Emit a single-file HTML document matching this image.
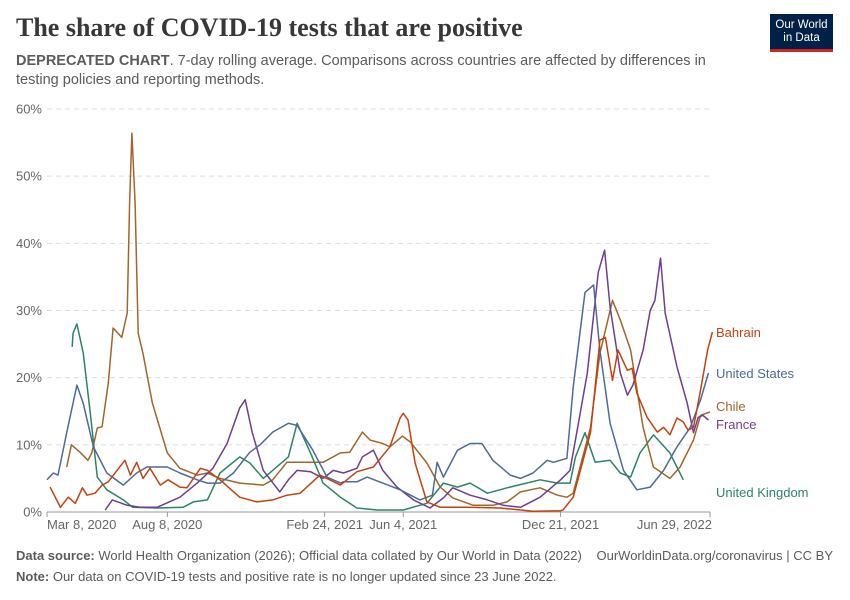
<!DOCTYPE html>
<html><head><meta charset="utf-8"><style>
body{margin:0;background:#fff;font-family:"Liberation Sans",sans-serif;}
#wrap{position:relative;width:850px;height:600px;overflow:hidden;}
.t{position:absolute;white-space:nowrap;}
</style></head><body>
<div id="wrap">
<div class="t" style="left:16px;top:13px;font-family:'Liberation Serif',serif;font-size:26px;font-weight:bold;color:#373737;">The share of COVID-19 tests that are positive</div>
<div class="t" style="left:16px;top:52px;font-size:14.5px;color:#5b5b5b;line-height:19px;white-space:normal;width:720px;"><b>DEPRECATED CHART</b>. 7-day rolling average. Comparisons across countries are affected by differences in testing policies and reporting methods.</div>
<div style="position:absolute;left:770px;top:14px;width:63px;height:38px;background:#002147;border-bottom:3px solid #ce261e;box-sizing:border-box;color:#fff;font-size:11.5px;line-height:13px;text-align:center;padding-top:5px;">Our World<br>in Data</div>
<svg id="chart" width="850" height="600" style="position:absolute;left:0;top:0;"></svg>
<div class="t" style="left:16px;top:548px;font-size:13px;color:#5b5b5b;"><b>Data source:</b> World Health Organization (2026); Official data collated by Our World in Data (2022)</div>
<div class="t" style="right:17px;top:548px;font-size:13px;color:#5b5b5b;">OurWorldinData.org/coronavirus | CC BY</div>
<div class="t" style="left:16px;top:569px;font-size:13px;color:#5b5b5b;"><b>Note:</b> Our data on COVID-19 tests and positive rate is no longer updated since 23 June 2022.</div>
</div>
<script>
const yTicks=[0,10,20,30,40,50,60];
const xTickDays=[0,153,353,453,653,843];
const xTickLabels=["Mar 8, 2020","Aug 8, 2020","Feb 24, 2021","Jun 4, 2021","Dec 21, 2021","Jun 29, 2022"];
const seriesNames=["Bahrain","United States","Chile","France","United Kingdom"];
const bahrainDays=[4,17,27,36,45,51,61,70,78,89,99,106,114,122,131,144,154,169,178,195,204,220,245,267,287,305,322,347,373,394,415,436,449,453,459,468,483,500,534,576,618,653,656,669,691,703,710,719,726,738,744,750,763,776,784,792,801,809,815,822,831,840,846];
const bahrainVals=[3.7,0.7,2.2,1.3,3.6,2.5,2.8,4,4.5,6.2,7.7,5.5,7.4,5,6.5,4,4.8,3.7,3.6,6.5,6.2,4.8,2.2,1.5,1.8,2.5,2.8,5.5,4,6,6.7,9.7,14,14.7,13.7,7.3,1.5,0.7,0.7,0.6,0.1,0.2,0.3,2.2,11.8,25.6,26,19.6,24.1,21.1,21.4,17.7,14.1,11.9,12.6,11.5,14,13.4,12.2,12.6,18.2,24.1,26.8];
const usDays=[0,8,14,25,38,46,59,76,97,114,127,153,169,191,204,220,237,258,271,287,307,318,338,356,373,377,394,407,427,449,474,490,496,504,522,538,553,567,589,602,618,636,644,661,669,684,695,703,716,733,750,767,784,801,818,831,841];
const usVals=[4.8,5.8,5.5,11.8,18.9,16.2,9.7,5.8,4,5.8,6.7,6.7,5.8,4.8,4.3,4.3,5.8,8.9,10,11.9,13.2,12.9,9.2,5.2,4.3,4.5,4.5,5.2,4.3,3.3,1.8,2.5,7.4,5.2,9.2,10.2,10.2,7.7,5.5,5,5.8,7.7,7.4,8,18.6,32.7,33.8,24.1,13.2,6.2,3.3,3.7,6.2,9.7,12.6,16.7,20.7];
const chileDays=[25,31,42,52,57,64,70,78,84,95,102,105,108,112,116,122,134,153,169,191,204,220,245,275,287,305,331,351,373,385,401,411,427,436,452,462,483,500,516,542,567,585,602,627,649,661,669,691,703,719,729,742,758,771,792,805,822,831,843];
const chileVals=[6.7,10,8.9,7.7,8.8,12.5,12.7,19.2,27.4,26,29.6,46,56.4,46,26.6,23.6,16.2,8.8,6.5,5.5,5.8,5,4.3,4,4.8,7.4,7.4,7.4,8.8,8.9,11.9,10.7,10.2,9.7,11.3,10.4,7.3,3.7,2.1,1,1,1.5,3,3.6,2.5,2.2,2.8,12.6,23.6,31.5,28.6,24.1,12.6,6.7,5,6.7,10.7,14.4,14.9];
const franceDays=[74,83,102,118,140,169,191,211,229,245,252,261,275,296,307,318,335,351,364,377,394,401,415,427,445,466,487,504,516,538,560,580,602,627,653,665,678,687,701,709,716,729,738,745,758,767,773,780,786,801,814,822,828,834,841];
const franceVals=[0.3,1.8,1,0.7,0.7,2.2,4.3,6.5,10.2,15.5,16.7,11.8,6.2,3,4.8,6.2,6,5,6.2,5.8,6.5,8.2,9.2,6.2,3.7,1.8,0.6,2.1,3.6,2.5,1.8,1,0.7,2.2,4.8,6.2,14.7,20.7,35.7,39,30.5,20.7,17.4,18.9,24.1,30,31.5,37.8,29.6,21.6,16.2,11.8,14.1,14.4,13.7];
const ukDays=[32,33,38,46,55,64,76,97,109,140,173,186,204,220,245,258,275,307,318,335,351,373,394,420,453,483,504,522,538,560,585,627,649,665,672,684,697,716,729,742,754,771,792,809];
const ukVals=[24.6,26.6,28,23.7,14.7,5.2,3.3,1.8,0.7,0.6,0.7,1.5,1.8,5.8,8.2,7.3,5,8.2,13.2,8.8,4.3,2.2,0.6,0.3,0.3,1.3,4.3,3.7,4.3,2.8,3.6,4.8,4.3,4.3,8.2,11.8,7.4,7.7,5.8,5.2,8.8,11.5,8.8,4.8,3];
const colors=["#c4420e","#4c6a9c","#a2652a","#6d3e91","#2c8465"];
const labelY=[332,373,406,424,492];

const NS="http://www.w3.org/2000/svg";
const svg=document.getElementById('chart');
const X0=47,X1=710,Y0=512,Y1=109,DMAX=843,VMAX=60;
function xs(d){return X0+d*(X1-X0)/DMAX;}
function ys(v){return Y0-v*(Y0-Y1)/VMAX;}
function mk(tag,attrs){const e=document.createElementNS(NS,tag);for(const k in attrs)e.setAttribute(k,attrs[k]);svg.appendChild(e);return e;}

yTicks.forEach(t=>{
  const g=mk('line',{x1:X0,x2:X1,y1:ys(t),y2:ys(t),stroke:'#dddddd','stroke-dasharray':t===0?'':'5,4'});
  
  
  const l=mk('text',{x:42,y:ys(t)+4.5,'text-anchor':'end','font-size':'13','fill':'#666','font-family':'Liberation Sans, sans-serif'});
  l.textContent=t+'%';
  
  
});
const ax=mk('line',{x1:X0,x2:X1,y1:Y0,y2:Y0,stroke:'#999'});


xTickDays.forEach((d,i)=>{
  const tk=mk('line',{x1:xs(d),x2:xs(d),y1:Y0,y2:Y0+5,stroke:'#999'});
  
  
  const anchor=i===0?'start':(i===xTickDays.length-1?'end':'middle');
  const l=mk('text',{x:i===xTickDays.length-1?xs(d)+2:xs(d),y:529,'text-anchor':anchor,'font-size':'13','fill':'#666','font-family':'Liberation Sans, sans-serif'});
  l.textContent=xTickLabels[i];
  
  
});
const allDays=[bahrainDays,usDays,chileDays,franceDays,ukDays];
const allVals=[bahrainVals,usVals,chileVals,franceVals,ukVals];
const order=[4,2,3,1,0];
order.forEach(i=>{
  const pts=allDays[i].map((d,j)=>xs(d).toFixed(1)+','+ys(allVals[i][j]).toFixed(1)).join(' ');
  const p=mk('polyline',{points:pts,fill:'none',stroke:colors[i],'stroke-width':1.5,'stroke-linejoin':'round'});
  
  
});
seriesNames.forEach((n,i)=>{
  const l=mk('text',{x:716,y:labelY[i]+5,'font-size':'13','fill':colors[i],'font-family':'Liberation Sans, sans-serif'});
  l.textContent=n;
  
  
});
</script>
</body></html>
